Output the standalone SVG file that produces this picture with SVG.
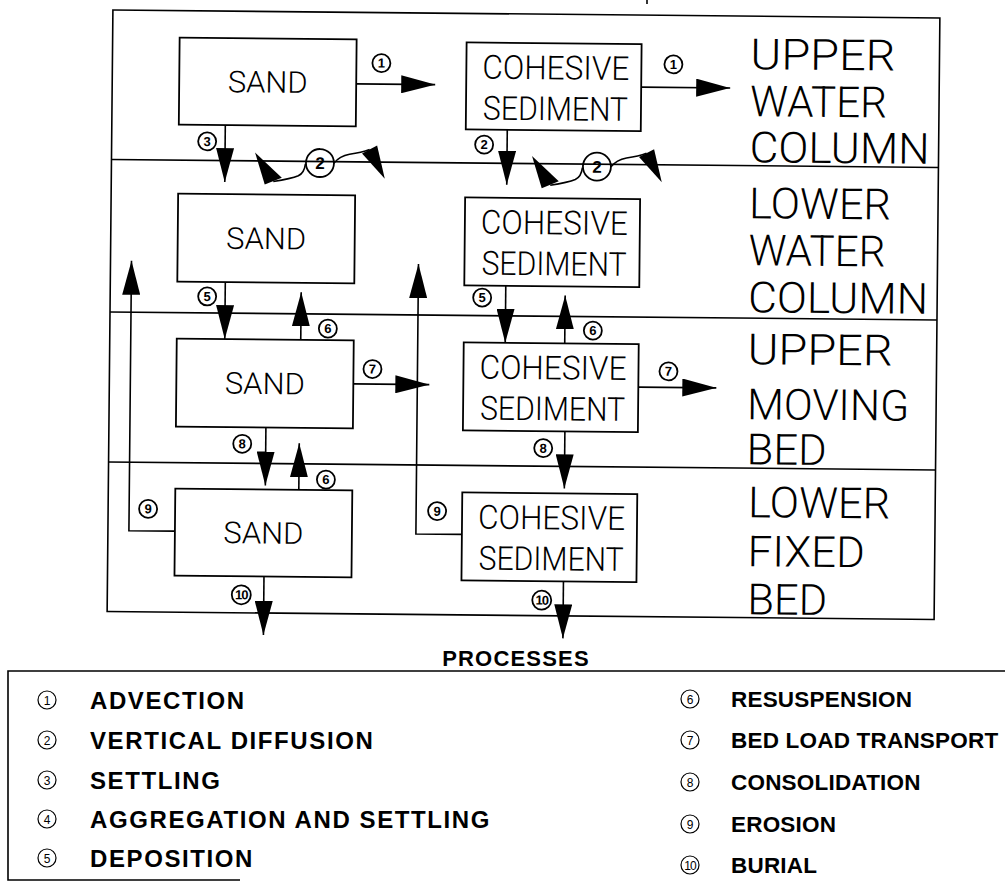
<svg xmlns="http://www.w3.org/2000/svg" width="1005" height="884" viewBox="0 0 1005 884">
<defs>
<marker id="ah" markerUnits="userSpaceOnUse" markerWidth="34" markerHeight="18" refX="34" refY="9" orient="auto"><path d="M0,0 L34,9 L0,18 z" fill="#000"/></marker>
<g id="wavy">
<polygon points="253.5,155 263.5,187 280.5,180" fill="#000"/>
<path d="M272,184 Q290,181 297,178 Q303,175 304,166" stroke="#000" stroke-width="1.6" fill="none"/>
<path d="M332.5,165 Q338,158 348,156 Q360,154 368,151" stroke="#000" stroke-width="1.6" fill="none"/>
<polygon points="360.5,155 375.5,147 383.5,180" fill="#000"/>
<circle cx="318.5" cy="165" r="14" fill="none" stroke="#000" stroke-width="1.8"/>
<text x="318.5" y="171" font-family="Liberation Sans, Arial, sans-serif" font-weight="bold" font-size="17" text-anchor="middle">2</text>
</g>
</defs>
<style>
.ln{stroke:#000;stroke-width:1.6;fill:none}
.bx{fill:#fff;stroke:#000;stroke-width:1.8}
.bt{font-family:Roboto,"Liberation Sans",sans-serif;font-weight:300;fill:#000;text-anchor:middle}
.sand{font-size:30px}
.coh{font-size:33px}
.lay{font-family:Roboto,"Liberation Sans",sans-serif;font-weight:300;font-size:43px;fill:#000}
.ar{stroke:#000;stroke-width:1.6;fill:none;marker-end:url(#ah)}
.cn circle{fill:#fff;stroke:#000;stroke-width:1.8}
.cn text{font-family:"Liberation Sans",Arial,sans-serif;font-weight:bold;font-size:13px;text-anchor:middle}
.lg{font-family:"Liberation Sans",Arial,sans-serif;font-weight:bold;fill:#000}
.lgl{font-size:24px;letter-spacing:1.6px}
.lgr{font-size:22.5px;letter-spacing:0.2px}
.lc circle{fill:none;stroke:#000;stroke-width:1.2}
.lc text{font-family:"Liberation Sans",Arial,sans-serif;font-size:12px;text-anchor:middle}
</style>
<rect width="1005" height="884" fill="#fff"/>
<line x1="647" y1="0" x2="647" y2="4" class="ln"/>
<g transform="rotate(0.55 525 315)">
<g id="frame">
<rect x="110" y="14" width="827" height="601.5" class="ln"/>
<line x1="110" y1="163.5" x2="937" y2="163.5" class="ln"/>
<line x1="110" y1="316" x2="937" y2="316" class="ln"/>
<line x1="110" y1="466" x2="937" y2="466" class="ln"/>
</g>
<g id="connectors">
<line x1="354" y1="85.5" x2="433" y2="85.5" class="ar"/>
<line x1="639" y1="86" x2="728" y2="86" class="ar"/>
<line x1="223.5" y1="128" x2="223.5" y2="185" class="ar"/>
<line x1="505.5" y1="130" x2="505.5" y2="185" class="ar"/>
<use href="#wavy"/>
<use href="#wavy" transform="translate(277 1)"/>
<line x1="225" y1="285" x2="225" y2="342" class="ar"/>
<line x1="301" y1="342" x2="301" y2="294.5" class="ar"/>
<line x1="505.5" y1="286" x2="505.5" y2="343" class="ar"/>
<line x1="565" y1="343" x2="565" y2="295" class="ar"/>
<line x1="354" y1="385.5" x2="430" y2="385.5" class="ar"/>
<line x1="639" y1="386" x2="717" y2="386" class="ar"/>
<line x1="267" y1="430" x2="267" y2="488" class="ar"/>
<line x1="300.5" y1="492" x2="300.5" y2="445.5" class="ar"/>
<line x1="566" y1="431" x2="566" y2="488" class="ar"/>
<line x1="266.5" y1="579" x2="266.5" y2="637.5" class="ar"/>
<line x1="566" y1="581" x2="566" y2="638" class="ar"/>
<polyline points="177,534.5 131,534.5 131,264.5" class="ar"/>
<polyline points="464,535 418,535 418,265" class="ar"/>
</g>
<g id="labels">
<g class="cn"><circle cx="379" cy="64.5" r="9"/><text x="379" y="69">1</text></g>
<g class="cn"><circle cx="671" cy="63" r="9"/><text x="671" y="67.5">1</text></g>
<g class="cn"><circle cx="205.5" cy="144.5" r="9"/><text x="205.5" y="149">3</text></g>
<g class="cn"><circle cx="482.5" cy="145" r="9"/><text x="482.5" y="149.5">2</text></g>
<g class="cn"><circle cx="207" cy="299.5" r="9"/><text x="207" y="304">5</text></g>
<g class="cn"><circle cx="328" cy="330.5" r="9"/><text x="328" y="335">6</text></g>
<g class="cn"><circle cx="482" cy="298" r="9"/><text x="482" y="302.5">5</text></g>
<g class="cn"><circle cx="593" cy="330" r="9"/><text x="593" y="334.5">6</text></g>
<g class="cn"><circle cx="373" cy="370.5" r="9"/><text x="373" y="375">7</text></g>
<g class="cn"><circle cx="669" cy="370" r="9"/><text x="669" y="374.5">7</text></g>
<g class="cn"><circle cx="243.5" cy="446.5" r="9"/><text x="243.5" y="451">8</text></g>
<g class="cn"><circle cx="327.5" cy="481.5" r="9"/><text x="327.5" y="486">6</text></g>
<g class="cn"><circle cx="544.5" cy="448" r="9"/><text x="544.5" y="452.5">8</text></g>
<g class="cn"><circle cx="150" cy="512.5" r="9"/><text x="150" y="517">9</text></g>
<g class="cn"><circle cx="439" cy="512" r="9"/><text x="439" y="516.5">9</text></g>
<g class="cn"><circle cx="244" cy="597.5" r="9.5"/><text x="244" y="602" letter-spacing="-1">10</text></g>
<g class="cn"><circle cx="544.5" cy="600" r="9.5"/><text x="544.5" y="604.5" letter-spacing="-1">10</text></g>
</g>
<g id="sand1"><rect x="177" y="41" width="177" height="87" class="bx"/><text x="265.5" y="95" class="bt sand" textLength="80" lengthAdjust="spacingAndGlyphs">SAND</text></g>
<g id="sand2"><rect x="177" y="197" width="177" height="88" class="bx"/><text x="265.5" y="251.5" class="bt sand" textLength="80" lengthAdjust="spacingAndGlyphs">SAND</text></g>
<g id="sand3"><rect x="177" y="342" width="177" height="88" class="bx"/><text x="265.5" y="396.5" class="bt sand" textLength="80" lengthAdjust="spacingAndGlyphs">SAND</text></g>
<g id="sand4"><rect x="177" y="492" width="177" height="87" class="bx"/><text x="265.5" y="546" class="bt sand" textLength="80" lengthAdjust="spacingAndGlyphs">SAND</text></g>
<g id="coh1"><rect x="464" y="43" width="175" height="87" class="bx"/><text x="553.5" y="79" class="bt coh" textLength="147" lengthAdjust="spacingAndGlyphs">COHESIVE</text><text x="553.5" y="120" class="bt coh" textLength="145" lengthAdjust="spacingAndGlyphs">SEDIMENT</text></g>
<g id="coh2"><rect x="464" y="198" width="175" height="88" class="bx"/><text x="553.5" y="234" class="bt coh" textLength="147" lengthAdjust="spacingAndGlyphs">COHESIVE</text><text x="553.5" y="275" class="bt coh" textLength="145" lengthAdjust="spacingAndGlyphs">SEDIMENT</text></g>
<g id="coh3"><rect x="464" y="343" width="175" height="88" class="bx"/><text x="553.5" y="379" class="bt coh" textLength="147" lengthAdjust="spacingAndGlyphs">COHESIVE</text><text x="553.5" y="420" class="bt coh" textLength="145" lengthAdjust="spacingAndGlyphs">SEDIMENT</text></g>
<g id="coh4"><rect x="464" y="493" width="175" height="88" class="bx"/><text x="553.5" y="529" class="bt coh" textLength="147" lengthAdjust="spacingAndGlyphs">COHESIVE</text><text x="553.5" y="570" class="bt coh" textLength="145" lengthAdjust="spacingAndGlyphs">SEDIMENT</text></g>
<g id="layer1"><text class="lay" x="748" y="67" textLength="145" lengthAdjust="spacingAndGlyphs">UPPER</text><text class="lay" x="748" y="114" textLength="137" lengthAdjust="spacingAndGlyphs">WATER</text><text class="lay" x="748" y="160" textLength="180" lengthAdjust="spacingAndGlyphs">COLUMN</text></g>
<g id="layer2"><text class="lay" x="748" y="216" textLength="142" lengthAdjust="spacingAndGlyphs">LOWER</text><text class="lay" x="748" y="263" textLength="137" lengthAdjust="spacingAndGlyphs">WATER</text><text class="lay" x="748" y="310" textLength="180" lengthAdjust="spacingAndGlyphs">COLUMN</text></g>
<g id="layer3"><text class="lay" x="748" y="362" textLength="145" lengthAdjust="spacingAndGlyphs">UPPER</text><text class="lay" x="748" y="417" textLength="162" lengthAdjust="spacingAndGlyphs">MOVING</text><text class="lay" x="748" y="462" textLength="80" lengthAdjust="spacingAndGlyphs">BED</text></g>
<g id="layer4"><text class="lay" x="750" y="515" textLength="142" lengthAdjust="spacingAndGlyphs">LOWER</text><text class="lay" x="750" y="564" textLength="117" lengthAdjust="spacingAndGlyphs">FIXED</text><text class="lay" x="750" y="612" textLength="80" lengthAdjust="spacingAndGlyphs">BED</text></g>
</g>
<g id="legend">
<polyline points="1005,671 8,671 8,880 240,880" class="ln"/>
<text x="516" y="666" class="lg" font-size="22" letter-spacing="1.2" text-anchor="middle">PROCESSES</text>
<g class="lc"><circle cx="47" cy="700" r="9"/><text x="47" y="704.5">1</text></g>
<g class="lc"><circle cx="47" cy="740" r="9"/><text x="47" y="744.5">2</text></g>
<g class="lc"><circle cx="47" cy="780" r="9"/><text x="47" y="784.5">3</text></g>
<g class="lc"><circle cx="47" cy="819" r="9"/><text x="47" y="823.5">4</text></g>
<g class="lc"><circle cx="47" cy="858" r="9"/><text x="47" y="862.5">5</text></g>
<text x="90" y="708.5" class="lg lgl">ADVECTION</text>
<text x="90" y="748.5" class="lg lgl">VERTICAL DIFFUSION</text>
<text x="90" y="788.5" class="lg lgl">SETTLING</text>
<text x="90" y="827.5" class="lg lgl">AGGREGATION AND SETTLING</text>
<text x="90" y="866.5" class="lg lgl">DEPOSITION</text>
<g class="lc"><circle cx="690" cy="699" r="9"/><text x="690" y="703.5">6</text></g>
<g class="lc"><circle cx="690" cy="740" r="9"/><text x="690" y="744.5">7</text></g>
<g class="lc"><circle cx="690" cy="782" r="9"/><text x="690" y="786.5">8</text></g>
<g class="lc"><circle cx="690" cy="824" r="9"/><text x="690" y="828.5">9</text></g>
<g class="lc"><circle cx="690" cy="865" r="9"/><text x="690" y="869.5" letter-spacing="-1">10</text></g>
<text x="731" y="707" class="lg lgr">RESUSPENSION</text>
<text x="731" y="748" class="lg lgr">BED LOAD TRANSPORT</text>
<text x="731" y="790" class="lg lgr">CONSOLIDATION</text>
<text x="731" y="832" class="lg lgr">EROSION</text>
<text x="731" y="873" class="lg lgr">BURIAL</text>
</g>
</svg>
